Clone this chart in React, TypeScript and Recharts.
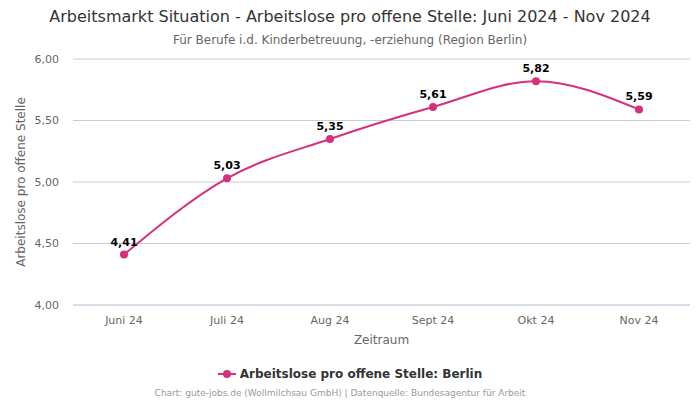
import React from "react";
import { LineChart, Line, XAxis, YAxis, CartesianGrid, LabelList } from "recharts";

const categories = ["Juni 24", "Juli 24", "Aug 24", "Sept 24", "Okt 24", "Nov 24"];
const values = [4.41, 5.03, 5.35, 5.61, 5.82, 5.59];
const yTicks = [4, 4.5, 5, 5.5, 6];

const data = categories.map((c, i) => ({ name: c, value: values[i] }));

const FONT = "'DejaVu Sans', sans-serif";
const COLOR = "#d62f7c";
const fmt = (v: number) => v.toFixed(2).replace(".", ",");

export default function App() {
  return (
    <div style={{ position: "absolute", left: 0, top: 0, width: 700, height: 400, fontFamily: FONT, background: "#fff" }}>
      <div style={{ position: "absolute", top: 7, left: 0, width: 700, textAlign: "center", fontSize: 16, color: "#333", whiteSpace: "nowrap" }}>
        Arbeitsmarkt Situation - Arbeitslose pro offene Stelle: Juni 2024 - Nov 2024
      </div>
      <div style={{ position: "absolute", top: 33, left: 0, width: 700, textAlign: "center", fontSize: 12, color: "#666" }}>
        Für Berufe i.d. Kinderbetreuung, -erziehung (Region Berlin)
      </div>
      <LineChart width={700} height={400} data={data} margin={{ top: 59, right: 10, left: 0, bottom: 45 }}>
        <CartesianGrid vertical={false} stroke="#cccccc" />
        <XAxis
          dataKey="name"
          padding={{ left: 51, right: 51 }}
          tickLine={false}
          axisLine={{ stroke: "#ccd6eb" }}
          tick={{ fill: "#666", fontSize: 11, fontFamily: FONT }}
          tickMargin={5}
          height={50}
          label={{ value: "Zeitraum", position: "insideBottom", offset: 11, fill: "#666", fontSize: 12, fontFamily: FONT }}
        />
        <YAxis
          domain={[4, 6]}
          ticks={yTicks}
          width={73}
          tickLine={false}
          axisLine={false}
          tickFormatter={fmt}
          tickMargin={8}
          tick={{ fill: "#666", fontSize: 11, fontFamily: FONT }}
          label={{ value: "Arbeitslose pro offene Stelle", angle: -90, position: "insideLeft", dx: 16, fill: "#666", fontSize: 12, fontFamily: FONT, style: { textAnchor: "middle" } }}
        />
        <Line
          type="monotone"
          dataKey="value"
          stroke={COLOR}
          strokeWidth={2}
          dot={{ r: 4, fill: COLOR, stroke: COLOR, strokeWidth: 0 }}
          isAnimationActive={false}
        >
          <LabelList dataKey="value" position="top" offset={9} formatter={(v: any) => fmt(Number(v))} style={{ fill: "#000", fontSize: 11, fontWeight: 700, fontFamily: FONT }} />
        </Line>
      </LineChart>
      <div style={{ position: "absolute", top: 367, left: 0, width: 700, display: "flex", justifyContent: "center", alignItems: "center", fontSize: 12, fontWeight: 700, color: "#333" }}>
        <svg width={18} height={10} style={{ marginRight: 4 }}>
          <line x1={0} y1={5} x2={18} y2={5} stroke={COLOR} strokeWidth={2} />
          <circle cx={9} cy={5} r={4} fill={COLOR} />
        </svg>
        <span>Arbeitslose pro offene Stelle: Berlin</span>
      </div>
      <div style={{ position: "absolute", top: 388, left: 0, width: 680, textAlign: "center", fontSize: 9, color: "#999" }}>
        Chart: gute-jobs.de (Wollmilchsau GmbH) | Datenquelle: Bundesagentur für Arbeit
      </div>
    </div>
  );
}
